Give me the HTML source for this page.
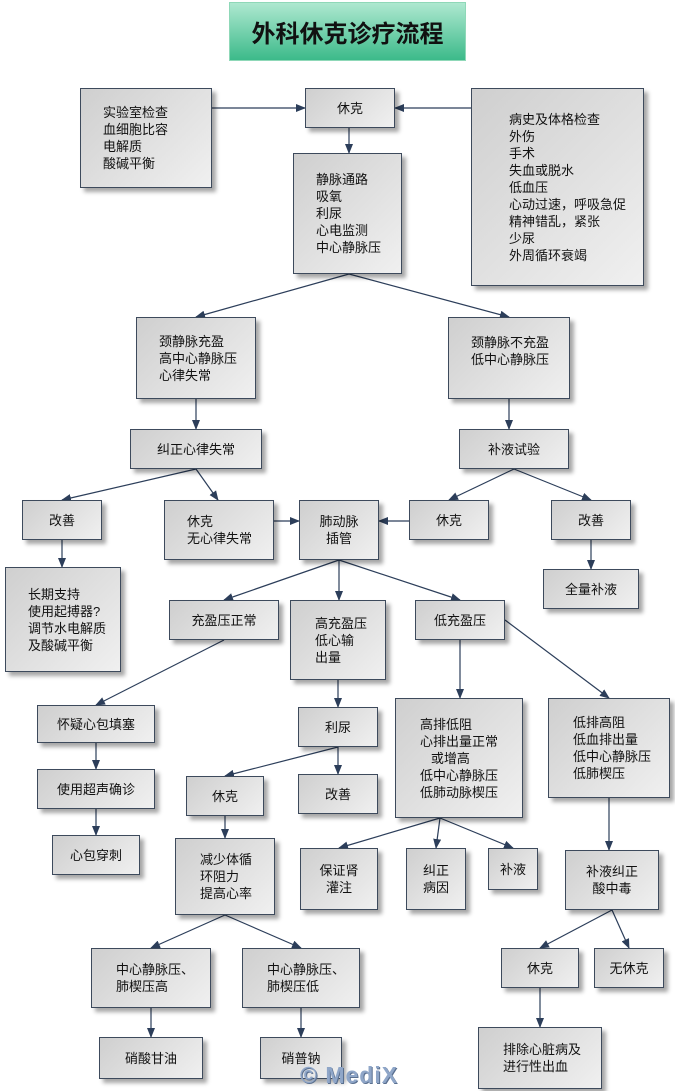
<!DOCTYPE html>
<html><head><meta charset="utf-8"><style>
body{margin:0;width:675px;height:1091px;background:#fff;position:relative;overflow:hidden;font-family:"Liberation Sans","Noto Sans CJK SC",sans-serif;}
.b{position:absolute;box-sizing:border-box;border:1px solid #3d4a5c;background:linear-gradient(135deg,#cfcfcf,#f0f0f0);box-shadow:4px 4px 4px rgba(0,0,0,0.35);font-size:13px;line-height:17px;color:#111;}
.c{display:flex;align-items:center;justify-content:center;text-align:center;}
.l{padding-left:22px;display:flex;flex-direction:column;justify-content:center;}
svg{position:absolute;left:0;top:0;}
</style></head><body>
<div style="position:absolute;left:229px;top:2px;width:237px;height:59px;background:linear-gradient(#aee8d0,#3cba8a);border:1px solid #8fd8b8;box-sizing:border-box;display:flex;align-items:center;justify-content:center;font-size:24px;font-weight:bold;color:#111;">外科休克诊疗流程</div>
<svg width="675" height="1091"><defs><marker id="a" markerWidth="10" markerHeight="8" refX="9" refY="4" orient="auto" markerUnits="userSpaceOnUse"><path d="M0,0L10,4L0,8z" fill="#2c3e5a"/></marker></defs>
<g stroke="#2c3e5a" stroke-width="1.2" fill="none" marker-end="url(#a)">
<path d="M212,108H305"/><path d="M471,108H395"/><path d="M349,128V153"/>
<path d="M349,274L196,317"/><path d="M349,274L509,317"/>
<path d="M196,399V429"/><path d="M509,399V429"/>
<path d="M196,469L62,500"/><path d="M196,469L218,500"/>
<path d="M514,469L449,500"/><path d="M514,469L591,500"/>
<path d="M274,521H299"/><path d="M409,521H379"/>
<path d="M62,540V567"/><path d="M591,540V569"/>
<path d="M339,560L224,600"/><path d="M339,560V600"/><path d="M339,560L460,600"/>
<path d="M224,640L96,705"/><path d="M338,680V707"/>
<path d="M460,640V698"/><path d="M505,620L609,698"/>
<path d="M96,743V769"/><path d="M96,809V835"/>
<path d="M338,747L225,776"/><path d="M338,747V774"/>
<path d="M225,816V838"/>
<path d="M440,818L339,848"/><path d="M440,818L436,848"/><path d="M440,818L513,848"/>
<path d="M609,798V850"/>
<path d="M612,910L540,948"/><path d="M612,910L629,948"/>
<path d="M225,915L151,948"/><path d="M225,915L301,948"/>
<path d="M151,1008V1037"/><path d="M301,1008V1037"/><path d="M540,988V1027"/>
</g></svg>
<div class="b l" style="left:80px;top:88px;width:132px;height:100px;">实验室检查<br>血细胞比容<br>电解质<br>酸碱平衡</div>
<div class="b c" style="left:305px;top:88px;width:90px;height:40px;">休克</div>
<div class="b l" style="left:471px;top:88px;width:173px;height:198px;padding-left:37px;">病史及体格检查<br>外伤<br>手术<br>失血或脱水<br>低血压<br>心动过速，呼吸急促<br>精神错乱，紧张<br>少尿<br>外周循环衰竭</div>
<div class="b l" style="left:293px;top:153px;width:109px;height:121px;">静脉通路<br>吸氧<br>利尿<br>心电监测<br>中心静脉压</div>
<div class="b l" style="left:136px;top:317px;width:120px;height:82px;">颈静脉充盈<br>高中心静脉压<br>心律失常</div>
<div class="b l" style="left:448px;top:317px;width:122px;height:82px;justify-content:flex-start;padding-top:16px;">颈静脉不充盈<br>低中心静脉压</div>
<div class="b c" style="left:130px;top:429px;width:132px;height:40px;">纠正心律失常</div>
<div class="b c" style="left:459px;top:429px;width:110px;height:40px;">补液试验</div>
<div class="b c" style="left:22px;top:500px;width:80px;height:40px;">改善</div>
<div class="b l" style="left:164px;top:500px;width:110px;height:60px;">休克<br>无心律失常</div>
<div class="b c" style="left:299px;top:500px;width:80px;height:60px;">肺动脉<br>插管</div>
<div class="b c" style="left:409px;top:500px;width:80px;height:40px;">休克</div>
<div class="b c" style="left:551px;top:500px;width:80px;height:40px;">改善</div>
<div class="b l" style="left:5px;top:567px;width:116px;height:105px;padding-left:22px;">长期支持<br>使用起搏器?<br>调节水电解质<br>及酸碱平衡</div>
<div class="b c" style="left:543px;top:569px;width:96px;height:40px;">全量补液</div>
<div class="b c" style="left:169px;top:600px;width:110px;height:40px;">充盈压正常</div>
<div class="b l" style="left:290px;top:600px;width:96px;height:80px;padding-left:24px;">高充盈压<br>低心输<br>出量</div>
<div class="b c" style="left:415px;top:600px;width:90px;height:40px;">低充盈压</div>
<div class="b l" style="left:395px;top:698px;width:128px;height:120px;padding-left:24px;">高排低阻<br>心排出量正常<br>&nbsp;&nbsp;&nbsp;或增高<br>低中心静脉压<br>低肺动脉楔压</div>
<div class="b l" style="left:548px;top:698px;width:122px;height:100px;padding-left:24px;">低排高阻<br>低血排出量<br>低中心静脉压<br>低肺楔压</div>
<div class="b c" style="left:37px;top:705px;width:118px;height:38px;">怀疑心包填塞</div>
<div class="b c" style="left:298px;top:707px;width:80px;height:40px;">利尿</div>
<div class="b c" style="left:37px;top:769px;width:118px;height:40px;">使用超声确诊</div>
<div class="b c" style="left:186px;top:776px;width:78px;height:40px;">休克</div>
<div class="b c" style="left:298px;top:774px;width:80px;height:40px;">改善</div>
<div class="b c" style="left:52px;top:835px;width:88px;height:40px;">心包穿刺</div>
<div class="b l" style="left:175px;top:838px;width:100px;height:77px;padding-left:24px;">减少体循<br>环阻力<br>提高心率</div>
<div class="b c" style="left:300px;top:848px;width:78px;height:62px;">保证肾<br>灌注</div>
<div class="b c" style="left:406px;top:848px;width:60px;height:62px;">纠正<br>病因</div>
<div class="b c" style="left:488px;top:848px;width:50px;height:42px;">补液</div>
<div class="b c" style="left:565px;top:850px;width:94px;height:60px;">补液纠正<br>酸中毒</div>
<div class="b l" style="left:91px;top:948px;width:120px;height:60px;padding-left:24px;">中心静脉压、<br>肺楔压高</div>
<div class="b l" style="left:242px;top:948px;width:118px;height:60px;padding-left:24px;">中心静脉压、<br>肺楔压低</div>
<div class="b c" style="left:501px;top:948px;width:78px;height:40px;">休克</div>
<div class="b c" style="left:594px;top:948px;width:70px;height:40px;">无休克</div>
<div class="b c" style="left:99px;top:1037px;width:104px;height:42px;">硝酸甘油</div>
<div class="b c" style="left:260px;top:1037px;width:82px;height:42px;">硝普钠</div>
<div class="b l" style="left:478px;top:1027px;width:124px;height:62px;padding-left:24px;">排除心脏病及<br>进行性出血</div>
<div style="position:absolute;left:300px;top:1062px;font-size:23px;font-weight:bold;color:#8fa6c8;letter-spacing:1px;text-shadow:1px 1px 0 #5a7090;line-height:26px;">© MediX</div>
</body></html>
